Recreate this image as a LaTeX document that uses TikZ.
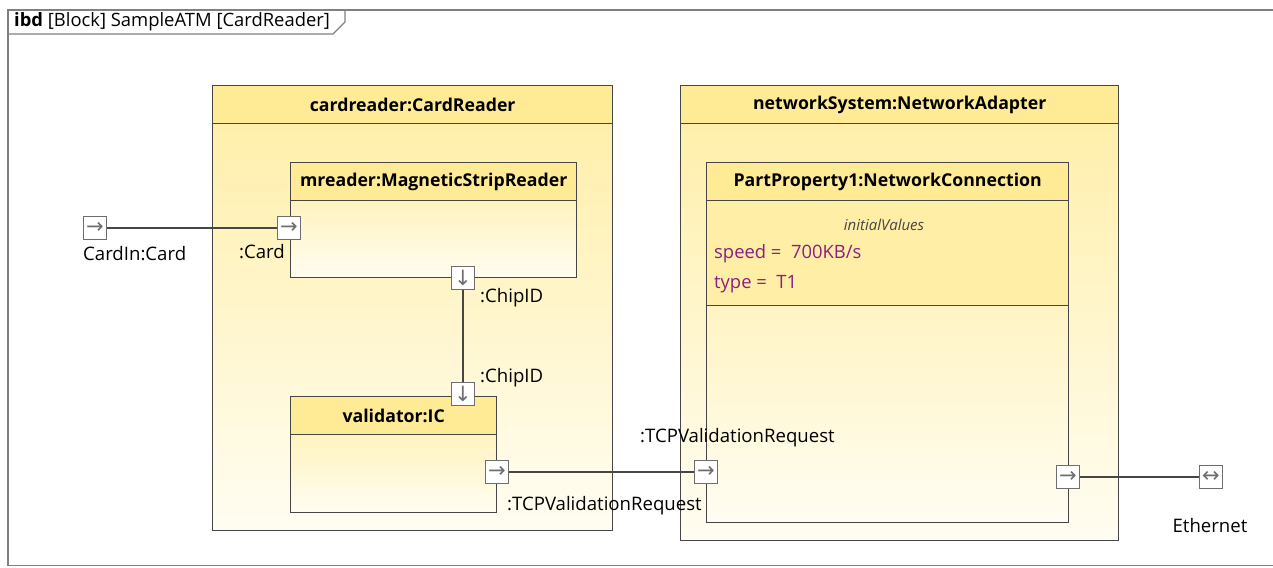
\documentclass[tikz,border=0pt]{standalone}
\usepackage{fontspec}
\setmainfont{Open Sans}
\newfontfamily\arrowfont{DejaVu Sans}
\usetikzlibrary{positioning, calc}
\definecolor{hdryellow}{RGB}{255,234,150}
\definecolor{bodytop}{RGB}{255,238,165}
\definecolor{bodybot}{RGB}{255,253,242}
\definecolor{linegray}{RGB}{70,70,70}
\definecolor{framegray}{RGB}{128,128,128}
\definecolor{portgray}{RGB}{110,110,110}
\definecolor{valpurple}{RGB}{140,30,130}
\tikzset{
    blockbody/.style={rectangle, anchor=north west, inner sep=0pt, draw=linegray, line width=1.4pt, top color=bodytop, bottom color=bodybot},
    blockhead/.style={rectangle, anchor=north west, inner sep=0pt, draw=linegray, line width=1.4pt, fill=hdryellow, minimum height=38, font=\bfseries\fontsize{17.7}{21}\selectfont},
    port/.style={rectangle, draw=portgray, fill=white, line width=1pt, minimum size=23, inner sep=0pt, text=portgray, font=\arrowfont\fontsize{21}{21}\selectfont},
    lbl/.style={inner sep=0pt, font=\fontsize{18.6}{21}\selectfont},
    attr/.style={inner sep=0pt, anchor=west, text=valpurple, font=\fontsize{18.4}{21}\selectfont},
    wire/.style={draw=linegray, line width=1.2pt}
}

\begin{document}
\begin{tikzpicture}[x=1pt, y=-1pt]
        \useasboundingbox (0,0) rectangle (1273,567);
        % Frame
        \draw [framegray, line width=1.6pt] (1290,10) -| (8,565.5) -- (1290,565.5);
        \node (tab) [anchor=west, inner sep=0pt, font=\fontsize{18.4}{21}\selectfont] at (14,22) {\textbf{ibd} [Block] SampleATM [CardReader]};
        \draw [framegray, line width=1.2pt] (8,34) -- (333,34) -- (345,22) -- (345,10);

        % Blocks
        \node (crbody) [blockbody, minimum width=400, minimum height=445] at (212,85) {};
        \node (crhead) [blockhead, minimum width=400] at (212,85) {cardreader:CardReader};
        \node (mrbody) [blockbody, minimum width=286, minimum height=115] at (290,162) {};
        \node (mrhead) [blockhead, minimum width=286] at (290,162) {mreader:MagneticStripReader};
        \node (icbody) [blockbody, minimum width=206, minimum height=116] at (290,396) {};
        \node (ichead) [blockhead, minimum width=206] at (290,396) {validator:IC};

        \node (nsbody) [blockbody, minimum width=438, minimum height=455] at (680,85) {};
        \node (nshead) [blockhead, minimum width=438] at (680,85) {networkSystem:NetworkAdapter};
        \node (ppbody) [blockbody, minimum width=362, minimum height=360] at (706,162) {};
        \node (ppvals) [blockhead, fill=bodytop, minimum width=362, minimum height=105] at (706,200) {};
        \node (pphead) [blockhead, minimum width=362] at (706,162) {PartProperty1:NetworkConnection};

        % Initial values
        \node (ivtitle) [inner sep=0pt, text=linegray, font=\itshape\fontsize{15}{17}\selectfont] at (884,225) {initialValues};
        \node (speed) [attr] at (714,254) {speed = \ 700KB/s};
        \node (type) [attr] at (714,284) {type = \ T1};

        % Ports
        \node (cardin) [port] at (95,228) {→};
        \node (cardport) [port] at (289,228) {→};
        \node (chipout) [port] at (463,278) {↓};
        \node (chipin) [port] at (463,394) {↓};
        \node (tcpout) [port] at (497,472) {→};
        \node (tcpin) [port] at (706,472) {→};
        \node (netout) [port] at (1068,477) {→};
        \node (ether) [port] at (1211,477) {↔};

        % Port labels
        \node (cardinlbl) [lbl, below=6pt of cardin.south west, anchor=north west] {CardIn:Card};
        \node (cardlbl) [lbl, anchor=east] at (285,252) {:Card};
        \node (chipoutlbl) [lbl, anchor=west] at (480,298) {:ChipID};
        \node (chipinlbl) [lbl, anchor=west] at (480,378) {:ChipID};
        \node (tcpoutlbl) [lbl, anchor=west] at (507,506) {:TCPValidationRequest};
        \node (tcpinlbl) [lbl, anchor=west] at (640,438) {:TCPValidationRequest};
        \node (etherlbl) [lbl] at (1210,526) {Ethernet};

        % Connectors
        \draw [wire] (cardin) -- (cardport);
        \draw [wire] (chipout) -- (chipin);
        \draw [wire] (tcpout) -- (tcpin);
        \draw [wire] (netout) -- (ether);
    \end{tikzpicture}
\end{document}
